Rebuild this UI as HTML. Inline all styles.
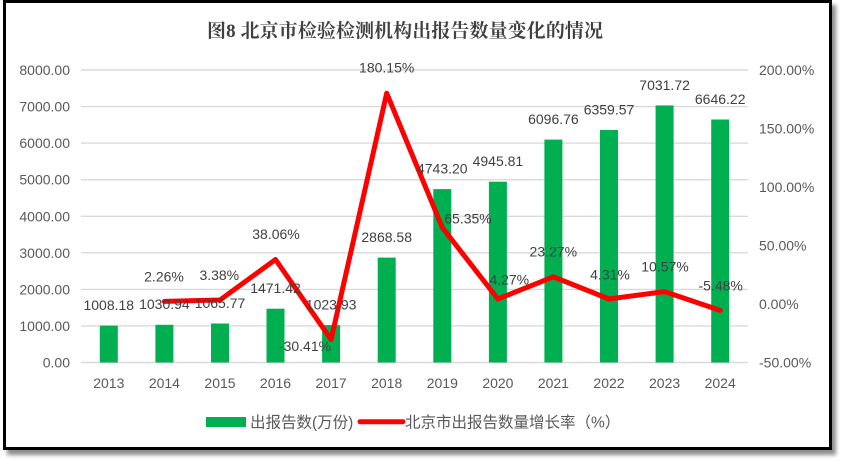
<!DOCTYPE html>
<html>
<head>
<meta charset="utf-8">
<style>
html,body{margin:0;padding:0;background:#fff;}
body{width:841px;height:461px;position:relative;overflow:hidden;}
.frame{position:absolute;left:3px;top:0px;width:823px;height:444px;border:3px solid #000;background:#fff;box-shadow:4px 5px 4px rgba(0,0,0,0.45);}
svg{position:absolute;left:0;top:0;}
text{font-family:"Liberation Sans","Noto Sans CJK SC",sans-serif;}
</style>
</head>
<body>
<div class="frame"></div>
<svg width="841" height="461" viewBox="0 0 841 461" xmlns="http://www.w3.org/2000/svg">
  <!-- title -->
  <text x="405" y="37" text-anchor="middle" textLength="396" lengthAdjust="spacing" style="font-family:'Liberation Serif','Noto Serif CJK SC',serif;font-weight:bold;font-size:19px;" fill="#404040">图8 北京市检验检测机构出报告数量变化的情况</text>

  <!-- gridlines -->
  <g stroke="#d9d9d9" stroke-width="1.4">
    <line x1="81" y1="70" x2="748" y2="70"/>
    <line x1="81" y1="106.6" x2="748" y2="106.6"/>
    <line x1="81" y1="143.1" x2="748" y2="143.1"/>
    <line x1="81" y1="179.7" x2="748" y2="179.7"/>
    <line x1="81" y1="216.3" x2="748" y2="216.3"/>
    <line x1="81" y1="252.8" x2="748" y2="252.8"/>
    <line x1="81" y1="289.4" x2="748" y2="289.4"/>
    <line x1="81" y1="325.9" x2="748" y2="325.9"/>
    <line x1="81" y1="362.5" x2="748" y2="362.5"/>
  </g>

  <!-- left axis labels -->
  <g font-size="14" fill="#595959" text-anchor="end">
    <text x="70" y="75">8000.00</text>
    <text x="70" y="111.6">7000.00</text>
    <text x="70" y="148.1">6000.00</text>
    <text x="70" y="184.7">5000.00</text>
    <text x="70" y="221.3">4000.00</text>
    <text x="70" y="257.8">3000.00</text>
    <text x="70" y="294.4">2000.00</text>
    <text x="70" y="330.9">1000.00</text>
    <text x="70" y="367.5">0.00</text>
  </g>

  <!-- right axis labels -->
  <g font-size="14" fill="#595959" text-anchor="start">
    <text x="759" y="75">200.00%</text>
    <text x="759" y="133.5">150.00%</text>
    <text x="759" y="192">100.00%</text>
    <text x="759" y="250.5">50.00%</text>
    <text x="759" y="309">0.00%</text>
    <text x="759" y="367.5">-50.00%</text>
  </g>

  <!-- x axis labels -->
  <g font-size="14" fill="#595959" text-anchor="middle">
    <text x="108.8" y="388">2013</text>
    <text x="164.4" y="388">2014</text>
    <text x="220" y="388">2015</text>
    <text x="275.5" y="388">2016</text>
    <text x="331.1" y="388">2017</text>
    <text x="386.7" y="388">2018</text>
    <text x="442.3" y="388">2019</text>
    <text x="497.9" y="388">2020</text>
    <text x="553.4" y="388">2021</text>
    <text x="609" y="388">2022</text>
    <text x="664.6" y="388">2023</text>
    <text x="720.2" y="388">2024</text>
  </g>

  <!-- bars -->
  <g fill="#00b050">
    <rect x="99.8" y="325.6" width="18" height="36.9"/>
    <rect x="155.4" y="324.8" width="18" height="37.7"/>
    <rect x="211" y="323.5" width="18" height="39"/>
    <rect x="266.5" y="308.7" width="18" height="53.8"/>
    <rect x="322.1" y="325.1" width="18" height="37.4"/>
    <rect x="377.7" y="257.6" width="18" height="104.9"/>
    <rect x="433.3" y="189.1" width="18" height="173.4"/>
    <rect x="488.9" y="181.7" width="18" height="180.8"/>
    <rect x="544.4" y="139.6" width="18" height="222.9"/>
    <rect x="600" y="130" width="18" height="232.5"/>
    <rect x="655.6" y="105.4" width="18" height="257.1"/>
    <rect x="711.2" y="119.5" width="18" height="243"/>
  </g>

  <!-- line -->
  <polyline fill="none" stroke="#ff0000" stroke-width="5" stroke-linejoin="round" stroke-linecap="round"
    points="164.4,301.4 220,300 275.5,259.5 331.1,339.6 386.7,93.2 442.3,227.5 497.9,299 553.4,276.8 609,299 664.6,291.6 720.2,310.4"/>

  <!-- bar value labels -->
  <g font-size="14" fill="#404040" text-anchor="middle">
    <text x="108.8" y="310">1008.18</text>
    <text x="164.4" y="309.2">1030.94</text>
    <text x="220" y="307.9">1065.77</text>
    <text x="275.5" y="293.1">1471.42</text>
    <text x="331.1" y="309.5">1023.93</text>
    <text x="386.7" y="242">2868.58</text>
    <text x="442.3" y="173.5">4743.20</text>
    <text x="497.9" y="166.1">4945.81</text>
    <text x="553.4" y="124">6096.76</text>
    <text x="609" y="114.4">6359.57</text>
    <text x="664.6" y="89.8">7031.72</text>
    <text x="720.2" y="103.9">6646.22</text>
  </g>

  <!-- percent labels -->
  <g font-size="14" fill="#404040" text-anchor="middle">
    <text x="164" y="281.7">2.26%</text>
    <text x="219.3" y="280">3.38%</text>
    <text x="276" y="239">38.06%</text>
    <text x="305" y="351">-30.41%</text>
    <text x="386.7" y="72.3">180.15%</text>
    <text x="468" y="223.3">65.35%</text>
    <text x="509.3" y="284.3">4.27%</text>
    <text x="553.3" y="256.7">23.27%</text>
    <text x="610" y="279.3">4.31%</text>
    <text x="665" y="271.7">10.57%</text>
    <text x="720.7" y="290.7">-5.48%</text>
  </g>

  <!-- legend -->
  <rect x="206" y="417" width="40" height="10" fill="#00b050"/>
  <text x="250" y="427.5" font-size="15.5" fill="#595959">出报告数(万份)</text>
  <line x1="360" y1="421.7" x2="403" y2="421.7" stroke="#ff0000" stroke-width="5" stroke-linecap="round"/>
  <text x="405" y="427.5" font-size="15.5" fill="#595959">北京市出报告数量增长率（%）</text>
</svg>
</body>
</html>
